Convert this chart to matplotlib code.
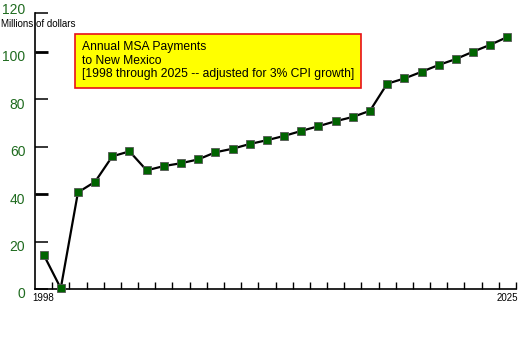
import matplotlib
matplotlib.use('Agg')
import matplotlib.pyplot as plt
import matplotlib.transforms as mtransforms

# Annual MSA payments to New Mexico, millions of dollars
years = list(range(1998, 2026))
payments = [14.5, 0.3, 40.7, 45.2, 55.9, 58.0, 50.0, 51.8, 53.0, 54.6,
            57.6, 59.1, 61.1, 62.7, 64.5, 66.6, 68.6, 70.7, 72.5, 75.1,
            86.5, 88.7, 91.5, 94.4, 96.9, 100.0, 102.9, 106.2]
y_ticks = [0, 20, 40, 60, 80, 100]
y_top = 116.3  # top of the axis carries the "120" label in the original

plt.rcParams['font.family'] = ['Liberation Sans', 'DejaVu Sans']

fig = plt.figure(figsize=(5.18, 3.61), dpi=100)
ax = fig.add_axes([35/518, 1-289/361, 481/518, 276/361])

ax.plot(years, payments, color='black', lw=1.6, marker='s', ms=5.8,
        mfc='#006400', mec='#555555', mew=0.6, zorder=3, clip_on=False)

ax.set_xlim(years[0] - 0.5, years[-1] + 0.5)
ax.set_ylim(0, y_top)

for s in ['top', 'right']:
    ax.spines[s].set_visible(False)
ax.spines['left'].set_linewidth(1.2)
ax.spines['bottom'].set_linewidth(1.2)

# y ticks point into the plot, green labels
ax.set_yticks(y_ticks + [y_top])
ax.set_yticklabels([str(v) for v in y_ticks] + ['120'])
ax.tick_params(axis='y', direction='in', length=9, width=1.1, pad=7,
               labelsize=10, labelcolor='#1f6b1f')
for tl, v in zip(ax.yaxis.get_major_ticks(), y_ticks + [y_top]):
    if v in (40, 100):
        tl.tick1line.set_color('#888888')
        tl.tick1line.set_markeredgewidth(2)
    # labels sit a little below their ticks, the top one a little above
    dy = 4/100 if v == y_top else -4/100
    off = mtransforms.ScaledTranslation(0, dy, fig.dpi_scale_trans)
    tl.label1.set_transform(tl.label1.get_transform() + off)

# x ticks at category boundaries, labels only at ends
ax.set_xticks([y + 0.5 for y in years[:-1]] + [years[-1] + 0.5])
ax.set_xticklabels([])
ax.tick_params(axis='x', which='major', direction='in', length=5, width=1.0)
for i, tl in enumerate(ax.xaxis.get_major_ticks()):
    if i in (1, 2, 3):
        tl.tick1line.set_color('#888888')
ax.set_xticks([years[0], years[-1]], minor=True)
ax.set_xticklabels([str(years[0]), str(years[-1])], minor=True)
ax.tick_params(axis='x', which='minor', length=0, pad=3, labelsize=7)

fig.text(1/518, 1-24/361, 'Millions of dollars', fontsize=7, va='center', ha='left')

ax.text(0.0977, 0.899,
        'Annual MSA Payments\nto New Mexico\n[1998 through 2025 -- adjusted for 3% CPI growth]',
        transform=ax.transAxes, fontsize=8.7, va='top', ha='left', linespacing=1.2,
        bbox=dict(boxstyle='square,pad=0.6', fc='#ffff00', ec='#e8101a', lw=1.2))

fig.savefig('out.png', dpi=100)
